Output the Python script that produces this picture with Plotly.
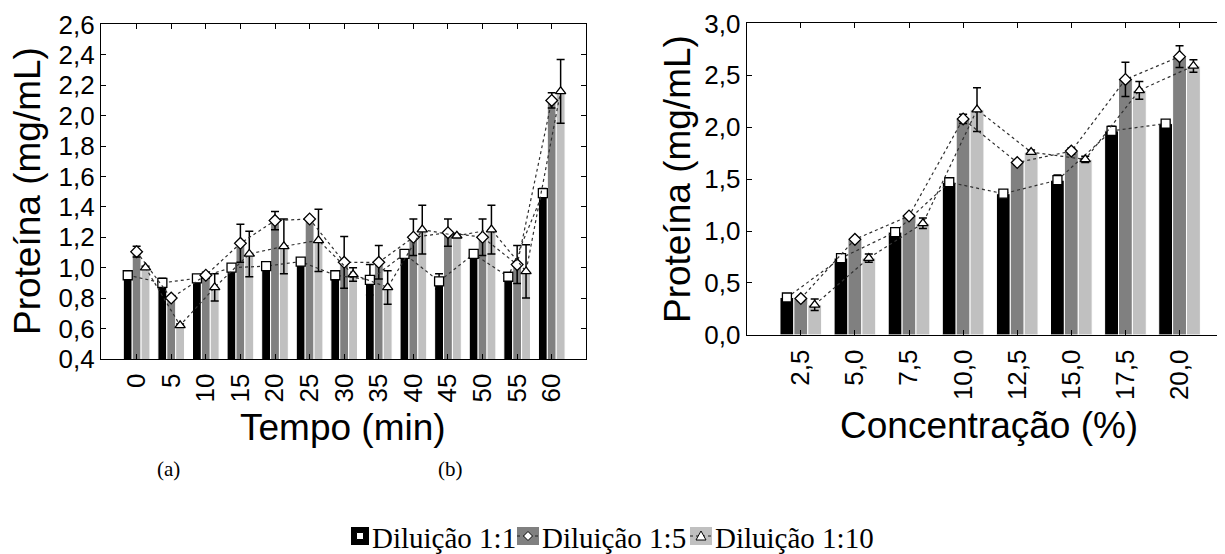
import plotly.graph_objects as go

# page body margin offsets the figure by 8 px; the figure is sized to fill the rest of the window
OFF = 8
W, H = 1225 - OFF, 554 - OFF

# ---------------- data ----------------
tempo = ["0", "5", "10", "15", "20", "25", "30", "35", "40", "45", "50", "55", "60"]
tempo_d11 = [0.95, 0.90, 0.93, 1.00, 1.01, 1.04, 0.95, 0.92, 1.09, 0.91, 1.09, 0.94, 1.49]
tempo_d11_err = [0.0, 0.03, 0.0, 0.01, 0.0, 0.0, 0.03, 0.10, 0.0, 0.05, 0.0, 0.0, 0.03]
tempo_d15 = [1.105, 0.80, 0.95, 1.16, 1.31, 1.32, 1.035, 1.035, 1.20, 1.23, 1.20, 1.02, 2.10]
tempo_d15_err = [0.035, 0.0, 0.02, 0.125, 0.06, 0.0, 0.17, 0.11, 0.12, 0.09, 0.12, 0.125, 0.05]
tempo_d110 = [1.00, 0.62, 0.87, 1.09, 1.14, 1.18, 0.955, 0.87, 1.25, 1.21, 1.25, 0.975, 2.16]
tempo_d110_err = [0.01, 0.01, 0.09, 0.15, 0.18, 0.205, 0.045, 0.11, 0.16, 0.01, 0.16, 0.175, 0.21]

conc = ["2,5", "5,0", "7,5", "10,0", "12,5", "15,0", "17,5", "20,0"]
conc_d11 = [0.36, 0.74, 0.99, 1.47, 1.36, 1.49, 1.965, 2.035]
conc_d11_err = [0.02, 0.03, 0.02, 0.04, 0.0, 0.05, 0.045, 0.0]
conc_d15 = [0.35, 0.92, 1.145, 2.08, 1.66, 1.77, 2.46, 2.68]
conc_d15_err = [0.02, 0.01, 0.01, 0.045, 0.02, 0.03, 0.165, 0.105]
conc_d110 = [0.29, 0.74, 1.075, 2.17, 1.76, 1.69, 2.355, 2.59]
conc_d110_err = [0.055, 0.04, 0.05, 0.21, 0.02, 0.03, 0.085, 0.06]

yticks_left = [0.4, 0.6, 0.8, 1.0, 1.2, 1.4, 1.6, 1.8, 2.0, 2.2, 2.4, 2.6]
yticks_right = [0.0, 0.5, 1.0, 1.5, 2.0, 2.5, 3.0]

series_names = ["Diluição 1:1", "Diluição 1:5", "Diluição 1:10"]

# ---------------- style ----------------
bar_colors = ["#000000", "#808080", "#c0c0c0"]
symbols = ["square", "diamond", "triangle-up"]
BW = 0.77 / 3
SANS = "Liberation Sans"
SERIF = "Liberation Serif"
TICK_SIZE = 26
TITLE_SIZE = 37


def px(x):
    return (x - OFF) / W


def py(y):
    return 1 - (y - OFF) / H


fig = go.Figure()


def add_panel(cats, vals_list, errs_list, xa, ya):
    idx = list(range(len(cats)))
    for k, (vals, errs) in enumerate(zip(vals_list, errs_list)):
        off = (k - 1) * BW
        fig.add_trace(go.Bar(
            x=idx, y=vals, width=BW, offset=off - BW / 2,
            marker=dict(color=bar_colors[k], line=dict(color="white", width=1)),
            error_y=dict(type="data", array=errs, color="black", thickness=1.5, width=4),
            xaxis=xa, yaxis=ya, showlegend=False, name=series_names[k],
        ))
    for k, vals in enumerate(vals_list):
        off = (k - 1) * BW
        fig.add_trace(go.Scatter(
            x=[i + off for i in idx], y=vals, mode="lines+markers",
            line=dict(color="#303030", width=1.2, dash="dot"),
            marker=dict(symbol=symbols[k], size=9, color="white",
                        line=dict(color="black", width=1.3)),
            xaxis=xa, yaxis=ya, showlegend=False, name=series_names[k],
        ))


add_panel(tempo, [tempo_d11, tempo_d15, tempo_d110],
          [tempo_d11_err, tempo_d15_err, tempo_d110_err], "x", "y")
add_panel(conc, [conc_d11, conc_d15, conc_d110],
          [conc_d11_err, conc_d15_err, conc_d110_err], "x2", "y2")

axis_common = dict(showgrid=False, zeroline=False, showline=True, linecolor="black",
                   linewidth=1.2, ticks="inside", ticklen=5, tickcolor="black",
                   automargin=False,
                   tickfont=dict(family=SANS, size=TICK_SIZE, color="black"))

fig.update_layout(
    width=W, height=H,
    margin=dict(l=0, r=0, t=0, b=0, autoexpand=False),
    paper_bgcolor="white", plot_bgcolor="white",
    separators=",.",
    barmode="overlay",
    xaxis=dict(domain=[px(101), px(586)], anchor="y", range=[-1.03, 12.99],
               tickvals=list(range(len(tempo))), ticktext=tempo, tickangle=-90,
               mirror="ticks", ticklabelstandoff=3, **axis_common),
    yaxis=dict(domain=[py(359), py(24.3)], anchor="x", range=[0.399, 2.601],
               tickvals=yticks_left, tickformat=".1f", mirror="ticks", **axis_common),
    xaxis2=dict(domain=[px(746.7), 1.0], anchor="y2", range=[-1.0, 7.84],
                tickvals=list(range(len(conc))), ticktext=conc, tickangle=-90,
                mirror="ticks", ticklabelstandoff=3, **axis_common),
    yaxis2=dict(domain=[py(335), py(23.3)], anchor="x2", range=[-0.001, 3.001],
                tickvals=yticks_right, tickformat=".1f", mirror=False, **axis_common),
)

annotations = [
    dict(text="Proteína (mg/mL)", x=px(28), y=py(191), textangle=-90,
         font=dict(family=SANS, size=TITLE_SIZE, color="black")),
    dict(text="Proteína (mg/mL)", x=px(677), y=py(179), textangle=-90,
         font=dict(family=SANS, size=TITLE_SIZE, color="black")),
    dict(text="Tempo (min)", x=px(343), y=py(427),
         font=dict(family=SANS, size=TITLE_SIZE, color="black")),
    dict(text="Concentração (%)", x=px(989), y=py(425),
         font=dict(family=SANS, size=TITLE_SIZE, color="black")),
    dict(text="(a)", x=px(168), y=py(469),
         font=dict(family=SERIF, size=21, color="black")),
    dict(text="(b)", x=px(450), y=py(469),
         font=dict(family=SERIF, size=21, color="black")),
]
for a in annotations:
    a.update(xref="paper", yref="paper", showarrow=False, xanchor="center", yanchor="middle")

# ---------------- custom legend ----------------
LEG_Y0, LEG_Y1 = 527, 545
LEG_FONT = 29
leg_x = [351, 517, 690]      # swatch left edges (px)
sw_w = [18, 22, 22]
shapes = []
cy = (LEG_Y0 + LEG_Y1) / 2
for k in range(3):
    x0 = leg_x[k]
    x1 = x0 + sw_w[k]
    shapes.append(dict(type="rect", xref="paper", yref="paper",
                       x0=px(x0), x1=px(x1), y0=py(LEG_Y1), y1=py(LEG_Y0),
                       fillcolor=bar_colors[k], line=dict(width=0)))
    cx = (x0 + x1) / 2
    if k == 0:
        shapes.append(dict(type="rect", xref="paper", yref="paper",
                           x0=px(cx - 3.5), x1=px(cx + 3.5), y0=py(cy + 3.5), y1=py(cy - 3.5),
                           fillcolor="white", line=dict(color="black", width=1)))
    else:
        shapes.append(dict(type="line", xref="paper", yref="paper",
                           x0=px(x0), x1=px(x1), y0=py(cy), y1=py(cy),
                           line=dict(color="#202020", width=1.2, dash="dot")))
        if k == 1:
            path = (f"M {px(cx)},{py(cy - 4.5)} L {px(cx + 4.5)},{py(cy)} "
                    f"L {px(cx)},{py(cy + 4.5)} L {px(cx - 4.5)},{py(cy)} Z")
        else:
            path = (f"M {px(cx)},{py(cy - 5)} L {px(cx + 5)},{py(cy + 4)} "
                    f"L {px(cx - 5)},{py(cy + 4)} Z")
        shapes.append(dict(type="path", xref="paper", yref="paper", path=path,
                           fillcolor="white", line=dict(color="black", width=1)))
    annotations.append(dict(text=series_names[k], x=px(x1 + 1), y=py(538),
                            xref="paper", yref="paper", showarrow=False,
                            xanchor="left", yanchor="middle",
                            font=dict(family=SERIF, size=LEG_FONT, color="black")))

fig.update_layout(annotations=annotations, shapes=shapes)

fig.write_html("out.html")
